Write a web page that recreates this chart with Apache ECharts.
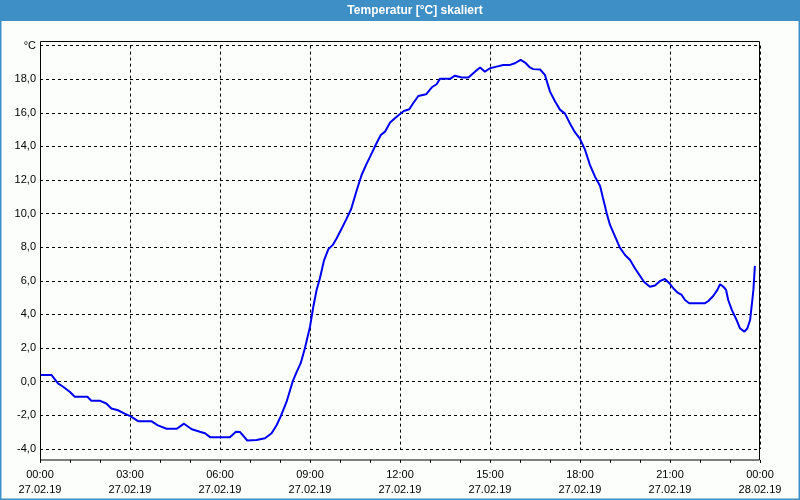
<!DOCTYPE html>
<html>
<head>
<meta charset="utf-8">
<script src="https://cdn.jsdelivr.net/npm/echarts@6/dist/echarts.min.js"></script>
<style>html,body{margin:0;padding:0;background:#fcfefc;}#c{width:800px;height:500px;}</style>
</head>
<body>
<div id="c"></div>
<script>
var titleText = 'Temperatur [°C] skaliert';
var unitLabel = '°C';
var tickTimes = ['00:00','03:00','06:00','09:00','12:00','15:00','18:00','21:00','00:00'];
var tickDates = ['27.02.19','27.02.19','27.02.19','27.02.19','27.02.19','27.02.19','27.02.19','27.02.19','28.02.19'];
// hours since 27.02.19 00:00
var hours = [0.00,0.38,0.60,0.77,0.99,1.16,1.58,1.71,1.99,2.21,2.38,2.60,2.82,3.01,3.27,3.71,3.93,4.22,4.56,4.80,
  5.06,5.33,5.50,5.67,6.33,6.53,6.67,6.91,7.22,7.50,7.72,7.89,8.02,8.22,8.42,8.56,8.69,8.83,9.00,9.11,
  9.22,9.33,9.47,9.61,9.76,9.89,10.06,10.20,10.37,10.56,10.72,10.87,11.06,11.20,11.36,11.50,11.67,11.83,12.00,12.13,
  12.31,12.44,12.61,12.87,13.06,13.22,13.33,13.67,13.83,14.06,14.28,14.50,14.67,14.83,15.00,15.22,15.44,15.67,15.83,16.02,
  16.17,16.33,16.44,16.67,16.83,17.00,17.17,17.33,17.50,17.67,17.83,18.00,18.17,18.33,18.50,18.67,18.78,18.89,19.00,19.17,
  19.33,19.50,19.67,19.83,20.00,20.13,20.33,20.50,20.68,20.83,20.98,21.11,21.24,21.39,21.50,21.64,22.17,22.28,22.44,22.58,
  22.67,22.78,22.87,22.94,23.06,23.22,23.33,23.48,23.58,23.67,23.72,23.78,23.83];
var temps = [0.40,0.40,-0.10,-0.30,-0.60,-0.90,-0.90,-1.13,-1.13,-1.30,-1.60,-1.70,-1.90,-2.05,-2.35,-2.35,-2.60,-2.80,-2.80,-2.50,
  -2.83,-2.98,-3.07,-3.30,-3.30,-2.98,-3.00,-3.50,-3.47,-3.37,-3.07,-2.58,-2.08,-1.19,0.00,0.60,1.10,1.99,3.27,4.46,
  5.46,6.15,7.24,7.88,8.14,8.54,9.13,9.63,10.26,11.41,12.30,12.90,13.60,14.13,14.68,14.88,15.42,15.68,15.93,16.11,
  16.21,16.57,17.00,17.10,17.52,17.70,18.02,18.02,18.21,18.10,18.10,18.45,18.70,18.45,18.65,18.75,18.85,18.85,18.95,19.15,
  18.99,18.70,18.60,18.58,18.26,17.26,16.67,16.19,15.95,15.35,14.85,14.45,13.79,12.90,12.20,11.65,10.82,10.02,9.33,8.63,
  7.98,7.54,7.24,6.75,6.30,5.95,5.65,5.72,6.00,6.11,5.86,5.56,5.32,5.16,4.86,4.67,4.67,4.80,5.10,5.46,
  5.80,5.65,5.46,4.86,4.27,3.67,3.18,2.98,3.18,3.67,4.46,5.46,6.89];

var seriesData = hours.map(function (h, i) { return [h, temps[i]]; });
var chart = echarts.init(document.getElementById('c'), null, {renderer: 'canvas'});
var font = 'Liberation Sans';
chart.setOption({
  animation: false,
  backgroundColor: '#fcfefc',
  textStyle: {fontFamily: font},
  grid: {left: 40, right: 40, top: 45.6, bottom: 51.1, containLabel: false},
  xAxis: {
    type: 'value', min: 0, max: 24, interval: 3, offset: 11,
    axisLine: {show: false, onZero: false},
    axisTick: {show: true, length: 3, inside: false, lineStyle: {color: '#000'}},
    minorTick: {show: true, splitNumber: 3, length: 3, lineStyle: {color: '#000'}},
    splitLine: {show: true, lineStyle: {color: '#000', type: [3, 3], width: 1}},
    axisLabel: {
      margin: 8, color: '#000', fontSize: 11, fontFamily: font, lineHeight: 14.7,
      formatter: function (v) { var i = Math.round(v / 3); return tickTimes[i] + '\n' + tickDates[i]; }
    }
  },
  yAxis: {
    type: 'value', min: -4, max: 20, interval: 2,
    axisLine: {show: false},
    axisTick: {show: false},
    splitLine: {show: true, lineStyle: {color: '#000', type: [3, 3], width: 1}},
    axisLabel: {
      margin: 4, color: '#000', fontSize: 11, fontFamily: font,
      formatter: function (v) { return v === 20 ? unitLabel : v.toFixed(1).replace('.', ','); }
    }
  },
  graphic: [
    {type: 'rect', shape: {x: 0, y: 0, width: 800, height: 21}, style: {fill: '#3d8fc5'}, z: 10},
    {type: 'text', x: 415, y: 10.5, style: {text: titleText, fill: '#fff', font: 'bold 12px ' + font, textAlign: 'center', textVerticalAlign: 'middle'}, z: 11},
    {type: 'rect', shape: {x: 0, y: 0, width: 1.5, height: 500}, style: {fill: '#3d8fc5'}, z: 10},
    {type: 'rect', shape: {x: 798.5, y: 0, width: 1.5, height: 500}, style: {fill: '#3d8fc5'}, z: 10},
    {type: 'rect', shape: {x: 0, y: 498.5, width: 800, height: 1.5}, style: {fill: '#3d8fc5'}, z: 10},
    {type: 'rect', shape: {x: 40.5, y: 41.5, width: 719, height: 418.5}, style: {fill: 'none', stroke: '#000', lineWidth: 1}, z: 5}
  ],
  series: [{
    type: 'line', data: seriesData, showSymbol: false, smooth: false,
    lineStyle: {color: '#0000f0', width: 2}, itemStyle: {color: '#0000f0'}, z: 3
  }]
});
</script>
</body>
</html>
